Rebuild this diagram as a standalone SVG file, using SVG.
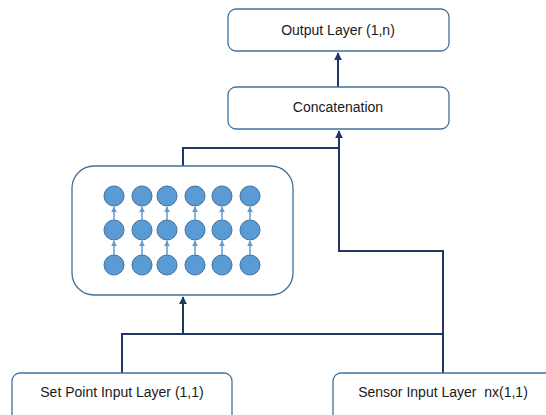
<svg xmlns="http://www.w3.org/2000/svg" width="546" height="415" viewBox="0 0 546 415">
<style>
.box{fill:#fff;stroke:#41719C;stroke-width:1.3}
.lbl{font-family:"Liberation Sans",Arial,sans-serif;font-size:14px;fill:#1a1a1a;text-anchor:middle;dominant-baseline:central}
.conn{fill:none;stroke:#1F3864;stroke-width:2}
.cell{fill:#5B9BD5;stroke:#41719C;stroke-width:1}
.small{fill:none;stroke:#5B9BD5;stroke-width:1.5}
</style>
<defs>
<marker id="ah" viewBox="0 0 10 10" refX="9" refY="5" markerWidth="4" markerHeight="4" orient="auto" markerUnits="strokeWidth">
<path d="M0,0 L10,5 L0,10 z" fill="#1F3864"/>
</marker>
<marker id="sh" viewBox="0 0 10 10" refX="9" refY="5" markerWidth="4" markerHeight="4" orient="auto" markerUnits="strokeWidth">
<path d="M0,0 L10,5 L0,10 z" fill="#5B9BD5"/>
</marker>
</defs>
<g id="connectors">
<path class="conn" d="M338 87 V53" marker-end="url(#ah)"/>
<path class="conn" d="M443 373 V251 H339 V131" marker-end="url(#ah)"/>
<path class="conn" d="M183 166 V148 H339"/>
<path class="conn" d="M122 373 V334 H443"/>
<path class="conn" d="M183 334 V297" marker-end="url(#ah)"/>
</g>
<g id="output">
<rect class="box" x="228" y="9" width="221" height="42" rx="8"/>
<text class="lbl" x="338" y="30">Output Layer (1,n)</text>
</g>
<g id="concat">
<rect class="box" x="228" y="87" width="221" height="42" rx="8"/>
<text class="lbl" x="338" y="107">Concatenation</text>
</g>
<g id="lstm">
<rect class="box" x="72" y="166" width="221" height="129" rx="22"/>
<g id="cells">
<circle class="cell" cx="114" cy="196" r="10"/><circle class="cell" cx="142" cy="196" r="10"/><circle class="cell" cx="167" cy="196" r="10"/><circle class="cell" cx="195" cy="196" r="10"/><circle class="cell" cx="222" cy="196" r="10"/><circle class="cell" cx="250" cy="196" r="10"/>
<circle class="cell" cx="114" cy="230" r="10"/><circle class="cell" cx="142" cy="230" r="10"/><circle class="cell" cx="167" cy="230" r="10"/><circle class="cell" cx="195" cy="230" r="10"/><circle class="cell" cx="222" cy="230" r="10"/><circle class="cell" cx="250" cy="230" r="10"/>
<circle class="cell" cx="114" cy="265" r="10"/><circle class="cell" cx="142" cy="265" r="10"/><circle class="cell" cx="167" cy="265" r="10"/><circle class="cell" cx="195" cy="265" r="10"/><circle class="cell" cx="222" cy="265" r="10"/><circle class="cell" cx="250" cy="265" r="10"/>
</g>
<g id="cell-arrows">
<path class="small" d="M114 220 V207" marker-end="url(#sh)"/><path class="small" d="M142 220 V207" marker-end="url(#sh)"/><path class="small" d="M167 220 V207" marker-end="url(#sh)"/><path class="small" d="M195 220 V207" marker-end="url(#sh)"/><path class="small" d="M222 220 V207" marker-end="url(#sh)"/><path class="small" d="M250 220 V207" marker-end="url(#sh)"/>
<path class="small" d="M114 255 V241" marker-end="url(#sh)"/><path class="small" d="M142 255 V241" marker-end="url(#sh)"/><path class="small" d="M167 255 V241" marker-end="url(#sh)"/><path class="small" d="M195 255 V241" marker-end="url(#sh)"/><path class="small" d="M222 255 V241" marker-end="url(#sh)"/><path class="small" d="M250 255 V241" marker-end="url(#sh)"/>
</g>
</g>
<g id="setpoint">
<rect class="box" x="12" y="373" width="220" height="55" rx="8"/>
<text class="lbl" x="122" y="392">Set Point Input Layer (1,1)</text>
</g>
<g id="sensor">
<rect class="box" x="333" y="373" width="230" height="55" rx="8"/>
<text class="lbl" x="443" y="392" xml:space="preserve">Sensor Input Layer  nx(1,1)</text>
</g>
</svg>
